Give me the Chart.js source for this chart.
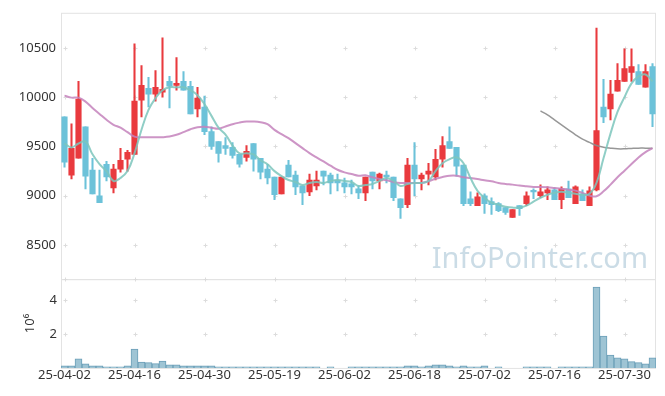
<!doctype html>
<html lang="en">
  <head>
    <meta charset="utf-8">
    <title>Candlestick with volume</title>
    <script src="https://cdn.jsdelivr.net/npm/chart.js"></script>
    <style>
      body { margin: 0; background: #fff; }
    </style>
  </head>
  <body>
    <canvas id="stockChart" width="665" height="396"></canvas>
    <script>
      const dates = [
        '25-04-02','25-04-03','25-04-04','25-04-07','25-04-08','25-04-09','25-04-10','25-04-11','25-04-14','25-04-15',
        '25-04-16','25-04-17','25-04-18','25-04-21','25-04-22','25-04-23','25-04-24','25-04-25','25-04-28','25-04-29',
        '25-04-30','25-05-02','25-05-07','25-05-08','25-05-09','25-05-12','25-05-13','25-05-14','25-05-15','25-05-16',
        '25-05-19','25-05-20','25-05-21','25-05-22','25-05-23','25-05-26','25-05-27','25-05-28','25-05-29','25-05-30',
        '25-06-02','25-06-04','25-06-05','25-06-09','25-06-10','25-06-11','25-06-12','25-06-13','25-06-16','25-06-17',
        '25-06-18','25-06-19','25-06-20','25-06-23','25-06-24','25-06-25','25-06-26','25-06-27','25-06-30','25-07-01',
        '25-07-02','25-07-03','25-07-04','25-07-07','25-07-08','25-07-09','25-07-10','25-07-11','25-07-14','25-07-15',
        '25-07-16','25-07-17','25-07-18','25-07-21','25-07-22','25-07-23','25-07-24','25-07-25','25-07-28','25-07-29',
        '25-07-30','25-07-31','25-08-01','25-08-04','25-08-05'
      ];

      const opens = [
        9800, 9210, 9380, 9700, 9260, 9000, 9320, 9080, 9270, 9370,
        9420, 9970, 10090, 10030, 10050, 10160, 10120, 10160, 10110, 9880,
        9900, 9650, 9550, 9510, 9490, 9420, 9390, 9530, 9380, 9270,
        9190, 9020, 9310, 9210, 9100, 9040, 9100, 9250, 9210, 9160,
        9130, 9120, 9070, 9030, 9240, 9150, 9210, 9190, 8970, 8910,
        9310, 9170, 9220, 9190, 9370, 9550, 9490, 9310, 8970, 8900,
        9000, 8940, 8920, 8880, 8780, 8900, 8920, 9050, 9000, 9030,
        9060, 8960, 9070, 8920, 9020, 8900, 9060, 9900, 9880, 10060,
        10160, 10250, 10260, 10100, 10310
      ];
      const closes = [
        9340, 9480, 9980, 9200, 9020, 8930, 9190, 9270, 9360, 9440,
        9960, 10120, 10030, 10100, 10080, 10110, 10140, 10070, 9830, 9990,
        9650, 9500, 9430, 9480, 9410, 9320, 9450, 9370, 9240, 9180,
        9010, 9190, 9190, 9090, 9030, 9160, 9160, 9200, 9130, 9130,
        9090, 9090, 9030, 9190, 9150, 9220, 9190, 8980, 8880, 9310,
        9170, 9210, 9250, 9370, 9510, 9480, 9300, 8920, 8920, 8990,
        8920, 8910, 8850, 8830, 8860, 8870, 9000, 9040, 9040, 9060,
        8960, 9070, 8980, 9090, 8950, 9050, 9660, 9800, 10030, 10170,
        10290, 10310, 10130, 10260, 9830
      ];
      const highs = [
        9800, 9730, 10160, 9700, 9380, 9260, 9350, 9320, 9480, 9460,
        10540, 10320, 10200, 10270, 10600, 10210, 10400, 10260, 10160, 10100,
        10010, 9700, 9550, 9590, 9540, 9420, 9510, 9530, 9380, 9320,
        9190, 9190, 9360, 9250, 9100, 9220, 9250, 9250, 9230, 9220,
        9180, 9160, 9100, 9190, 9240, 9230, 9250, 9190, 8970, 9380,
        9540, 9230, 9330, 9470, 9600, 9700, 9490, 9310, 9040, 9030,
        9020, 8980, 8930, 8880, 8860, 8900, 9040, 9070, 9110, 9090,
        9080, 9090, 9150, 9100, 9060, 9090, 10700, 10180, 10170, 10340,
        10490, 10490, 10330, 10330, 10340
      ];
      const lows = [
        9290, 9170, 9380, 9070, 9020, 8930, 9150, 9030, 9240, 9250,
        9420, 9800, 9900, 9960, 10000, 9890, 10070, 10070, 9830, 9800,
        9620, 9470, 9340, 9420, 9380, 9290, 9350, 9250, 9170, 9120,
        8960, 9020, 9190, 9010, 8910, 9000, 9060, 9110, 9020, 9050,
        9030, 9020, 8970, 8950, 9070, 9070, 9130, 8950, 8770, 8880,
        9000, 9060, 9110, 9160, 9290, 9480, 9200, 8900, 8900, 8900,
        8820, 8810, 8840, 8810, 8780, 8800, 8900, 8970, 8980, 8960,
        8960, 8870, 8980, 8920, 8950, 8900, 9050, 9740, 9770, 10060,
        10160, 10160, 10130, 10100, 9700
      ];
      const ma5 = [
        9530, 9490, 9530, 9550, 9420, 9320, 9250, 9150, 9180, 9250,
        9430, 9670, 9870, 9990, 10070, 10100, 10100, 10100, 10070, 10020,
        9930, 9810, 9690, 9620, 9510, 9430, 9430, 9420, 9360, 9320,
        9250, 9200, 9160, 9140, 9110, 9130, 9140, 9130, 9150, 9160,
        9150, 9140, 9100, 9110, 9120, 9150, 9180, 9150, 9100, 9120,
        9130, 9130, 9150, 9250, 9330, 9370, 9390, 9330, 9180, 9050,
        8980, 8930, 8910, 8890, 8880, 8880, 8900, 8940, 8980, 9010,
        9030, 9040, 9030, 9020, 9010, 9020, 9130, 9380, 9630, 9850,
        10000, 10140, 10210, 10230, 10160
      ];
      const ma20 = [
        10015, 9995, 9995, 9955, 9890, 9830, 9770, 9720, 9690, 9645,
        9600, 9594, 9594, 9594, 9594, 9600, 9618, 9645, 9675, 9695,
        9700, 9690, 9680, 9702, 9726, 9742, 9753, 9753, 9746, 9726,
        9668, 9625, 9584, 9534, 9483, 9433, 9389, 9348, 9305, 9264,
        9237, 9221, 9204, 9207, 9187, 9170, 9157, 9140, 9130, 9130,
        9130, 9130, 9147, 9173, 9190, 9204, 9204, 9187, 9180, 9170,
        9157, 9147, 9130, 9120, 9113, 9103, 9096, 9089, 9089, 9086,
        9079, 9072, 9062, 9052, 9029, 9002, 8995, 9045, 9113, 9187,
        9254, 9322, 9389, 9443, 9483
      ];
      const ma60 = [
        null, null, null, null, null, null, null, null, null, null,
        null, null, null, null, null, null, null, null, null, null,
        null, null, null, null, null, null, null, null, null, null,
        null, null, null, null, null, null, null, null, null, null,
        null, null, null, null, null, null, null, null, null, null,
        null, null, null, null, null, null, null, null, null, null,
        null, null, null, null, null, null, null, null, 9860, 9820,
        9769, 9719, 9668, 9618, 9574, 9541, 9510, 9493, 9483, 9476,
        9476, 9480, 9483, 9483, 9483
      ];
      // volume in millions of shares
      const volumes = [
        0.12, 0.12, 0.53, 0.24, 0.12, 0.12, 0.06, 0.06, 0.06, 0.12,
        1.12, 0.35, 0.31, 0.25, 0.41, 0.18, 0.18, 0.12, 0.12, 0.12,
        0.12, 0.12, 0.06, 0.06, 0.06, 0.06, 0.06, 0.06, 0.06, 0.06,
        0.06, 0.06, 0.06, 0.06, 0.06, 0.06, 0.06, 0, 0.06, 0,
        0, 0.06, 0.06, 0.06, 0.06, 0.06, 0.06, 0.06, 0.06, 0.12,
        0.12, 0.06, 0.12, 0.18, 0.18, 0.12, 0.06, 0.12, 0.06, 0.06,
        0.12, 0, 0.06, 0, 0, 0, 0.06, 0.06, 0.06, 0.06,
        0, 0.06, 0.06, 0.06, 0.06, 0.06, 4.78, 1.88, 0.76, 0.59,
        0.53, 0.37, 0.31, 0.24, 0.59
      ];
      const priceTicks = [8500, 9000, 9500, 10000, 10500];
      const volumeTicks = [2, 4];

      const UP = '#e93a3e';
      const DOWN = '#6cc2d9';
      const candleColors = closes.map((c, i) => c >= opens[i] ? UP : DOWN);

      const decor = {
        id: 'decor',
        beforeDatasetsDraw(chart) {
          const { ctx, scales } = chart;
          const x = scales.x, y = scales.y, yv = scales.yv;
          ctx.save();
          // watermark
          ctx.font = '29px "Noto Sans"';
          ctx.fillStyle = '#cbdce6';
          ctx.textAlign = 'right';
          ctx.textBaseline = 'alphabetic';
          ctx.fillText('InfoPointer.com', x.right - 8, y.bottom - 11);
          // panel frames
          ctx.strokeStyle = '#e3e3e3';
          ctx.lineWidth = 1;
          ctx.strokeRect(x.left + 0.5, y.top + 0.5, x.right - x.left - 1, y.bottom - y.top);
          ctx.strokeRect(x.left + 0.5, yv.top + 0.5, x.right - x.left - 1, yv.bottom - yv.top);
          // small grid crosses
          ctx.strokeStyle = '#dcdcdc';
          ctx.beginPath();
          const cross = (px, py) => {
            ctx.moveTo(px - 2, py); ctx.lineTo(px + 2, py);
            ctx.moveTo(px, py - 2); ctx.lineTo(px, py + 2);
          };
          for (let i = 0; i < dates.length; i += 10) {
            const px = Math.round(x.getPixelForValue(i)) + 0.5;
            priceTicks.forEach(v => cross(px, Math.round(y.getPixelForValue(v)) + 0.5));
            volumeTicks.forEach(v => cross(px, Math.round(yv.getPixelForValue(v)) + 0.5));
            cross(px, Math.round(y.bottom) + 0.5);
          }
          ctx.stroke();
          ctx.restore();
        }
      };

      const tickFont = { family: 'Noto Sans', size: 13 };

      new Chart(document.getElementById('stockChart').getContext('2d'), {
        type: 'bar',
        data: {
          labels: dates,
          datasets: [
            {
              type: 'line', label: 'MA5', data: ma5, yAxisID: 'y', order: 0,
              borderColor: 'rgba(125,198,188,0.85)', borderWidth: 2, pointRadius: 0, tension: 0.4
            },
            {
              type: 'line', label: 'MA20', data: ma20, yAxisID: 'y', order: 0,
              borderColor: 'rgba(196,130,188,0.85)', borderWidth: 2, pointRadius: 0, tension: 0.4
            },
            {
              type: 'line', label: 'MA60', data: ma60, yAxisID: 'y', order: 0,
              borderColor: 'rgba(140,140,140,0.9)', borderWidth: 1.5, pointRadius: 0, tension: 0.4
            },
            {
              label: 'Body', data: opens.map((o, i) => [o, closes[i]]), yAxisID: 'y', order: 1,
              grouped: false, barThickness: 5.5, minBarLength: 1.5,
              backgroundColor: candleColors, borderWidth: 0
            },
            {
              label: 'Wick', data: lows.map((l, i) => [l, highs[i]]), yAxisID: 'y', order: 2,
              grouped: false, barThickness: 1.4,
              backgroundColor: candleColors, borderWidth: 0
            },
            {
              label: 'Volume', data: volumes, yAxisID: 'yv', order: 3,
              grouped: false, barPercentage: 1, categoryPercentage: 1,
              backgroundColor: '#9ec4d4', borderColor: '#6b9fb8', borderWidth: 1
            }
          ]
        },
        options: {
          responsive: false,
          animation: false,
          devicePixelRatio: 1,
          layout: { padding: { top: 6.5, right: 9, bottom: 12.5, left: 0 } },
          plugins: { legend: { display: false }, tooltip: { enabled: false } },
          scales: {
            x: {
              type: 'category',
              offset: true,
              grid: { display: false, drawTicks: false },
              border: { display: false },
              ticks: {
                autoSkip: false, maxRotation: 0, padding: 0,
                color: '#333', font: tickFont,
                callback: (v, i) => i % 10 === 0 ? dates[i] : ''
              }
            },
            yv: {
              position: 'left', stack: 'panels', stackWeight: 1,
              min: 0, max: 5.25,
              grid: { display: false, drawTicks: false },
              border: { display: false },
              afterBuildTicks: s => { s.ticks = volumeTicks.map(v => ({ value: v })); },
              afterFit: s => { s.width = 61; },
              ticks: { color: '#333', font: tickFont, padding: 4, callback: v => String(v) },
              title: { display: true, text: '10⁶', color: '#333', font: tickFont, padding: { top: 22 } }
            },
            y: {
              position: 'left', stack: 'panels', stackWeight: 3,
              min: 8155, max: 10855,
              grid: { display: false, drawTicks: false },
              border: { display: false },
              afterBuildTicks: s => { s.ticks = priceTicks.map(v => ({ value: v })); },
              afterFit: s => { s.width = 61; },
              ticks: { color: '#333', font: tickFont, padding: 5, callback: v => String(v) }
            }
          }
        },
        plugins: [decor]
      });
    </script>
  </body>
</html>
